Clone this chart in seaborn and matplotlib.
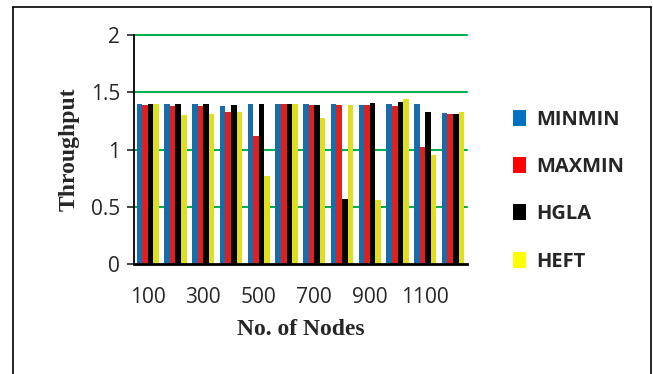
import matplotlib
matplotlib.use("Agg")
import matplotlib.pyplot as plt
from matplotlib.lines import Line2D
from matplotlib.patches import Patch
import seaborn as sns
import pandas as pd

nodes = [100, 200, 300, 400, 500, 600, 700, 800, 900, 1000, 1100, 1200]
minmin = [1.40, 1.40, 1.40, 1.38, 1.40, 1.40, 1.40, 1.40, 1.39, 1.40, 1.40, 1.32]
maxmin = [1.39, 1.38, 1.38, 1.33, 1.12, 1.40, 1.39, 1.39, 1.39, 1.38, 1.02, 1.31]
hgla = [1.40, 1.40, 1.40, 1.39, 1.40, 1.40, 1.39, 0.57, 1.41, 1.42, 1.33, 1.31]
heft = [1.40, 1.30, 1.31, 1.33, 0.77, 1.40, 1.28, 1.39, 0.56, 1.44, 0.95, 1.33]
series_names = ["MINMIN", "MAXMIN", "HGLA", "HEFT"]
series_colors = ["#0070C0", "#FF0000", "#000000", "#FFFF00"]

df = pd.DataFrame({
    "Nodes": [str(n) for n in nodes] * 4,
    "Algorithm": [s for s in series_names for _ in nodes],
    "Throughput": minmin + maxmin + hgla + heft,
})

sns.set_style("white")
fig = plt.figure(figsize=(6.53, 3.74), dpi=100)
ax = fig.add_axes([0.205, 0.294, 0.51, 0.612])

sns.barplot(data=df, x="Nodes", y="Throughput", hue="Algorithm",
            palette=series_colors, hue_order=series_names,
            width=0.8, gap=0.0, ax=ax, legend=False, zorder=3)
for p in ax.patches:
    p.set_edgecolor("none")

ax.set_ylim(0, 2)
ax.set_yticks([0, 0.5, 1, 1.5, 2])
ax.set_yticklabels(["0", "0.5", "1", "1.5", "2"])
ax.set_xlim(-0.5, len(nodes) - 0.5)
ax.set_xticks(range(len(nodes)))
ax.set_xticklabels([str(n) if i % 2 == 0 else "" for i, n in enumerate(nodes)])
ax.grid(False)
for yv in [0.5, 1, 1.5, 2]:
    ax.axhline(yv, color="#00B050", linewidth=1.5, zorder=0, clip_on=False)
for s in ["top", "right"]:
    ax.spines[s].set_visible(False)
ax.spines["left"].set_color("black")
ax.spines["bottom"].set_color("black")
ax.spines["left"].set_linewidth(1.3)
ax.spines["bottom"].set_linewidth(2)
ax.spines["bottom"].set_zorder(5)
ax.tick_params(axis="y", which="both", left=True, length=5, width=1.2,
               labelsize=15, pad=5)
ax.tick_params(axis="x", bottom=False, labelsize=15, pad=13)
for t in ax.get_xticklabels() + ax.get_yticklabels():
    t.set_fontfamily("Open Sans")

ax.set_xlabel("No. of Nodes", fontsize=17, fontweight="bold",
              fontfamily="Liberation Serif", labelpad=8)
ax.set_ylabel("Throughput", fontsize=17, fontweight="bold",
              fontfamily="Liberation Serif", labelpad=8)

handles = [Patch(facecolor=c, edgecolor="none", label=n)
           for c, n in zip(series_colors, series_names)]
fig.legend(handles=handles, loc="center left", bbox_to_anchor=(0.758, 0.49),
           frameon=False, handlelength=0.65, handleheight=0.85,
           handletextpad=0.5, labelspacing=1.35,
           prop={"family": "Open Sans", "weight": "bold", "size": 14.5})

# outer frame
frame_kw = dict(color="black", linewidth=1.2, transform=fig.transFigure)
fig.add_artist(Line2D([0.02, 0.02], [0.0, 0.981], **frame_kw))
fig.add_artist(Line2D([0.02, 0.997], [0.981, 0.981], **frame_kw))
fig.add_artist(Line2D([0.997, 0.997], [0.0, 0.981], **frame_kw))

fig.savefig("out.png", dpi=100)
